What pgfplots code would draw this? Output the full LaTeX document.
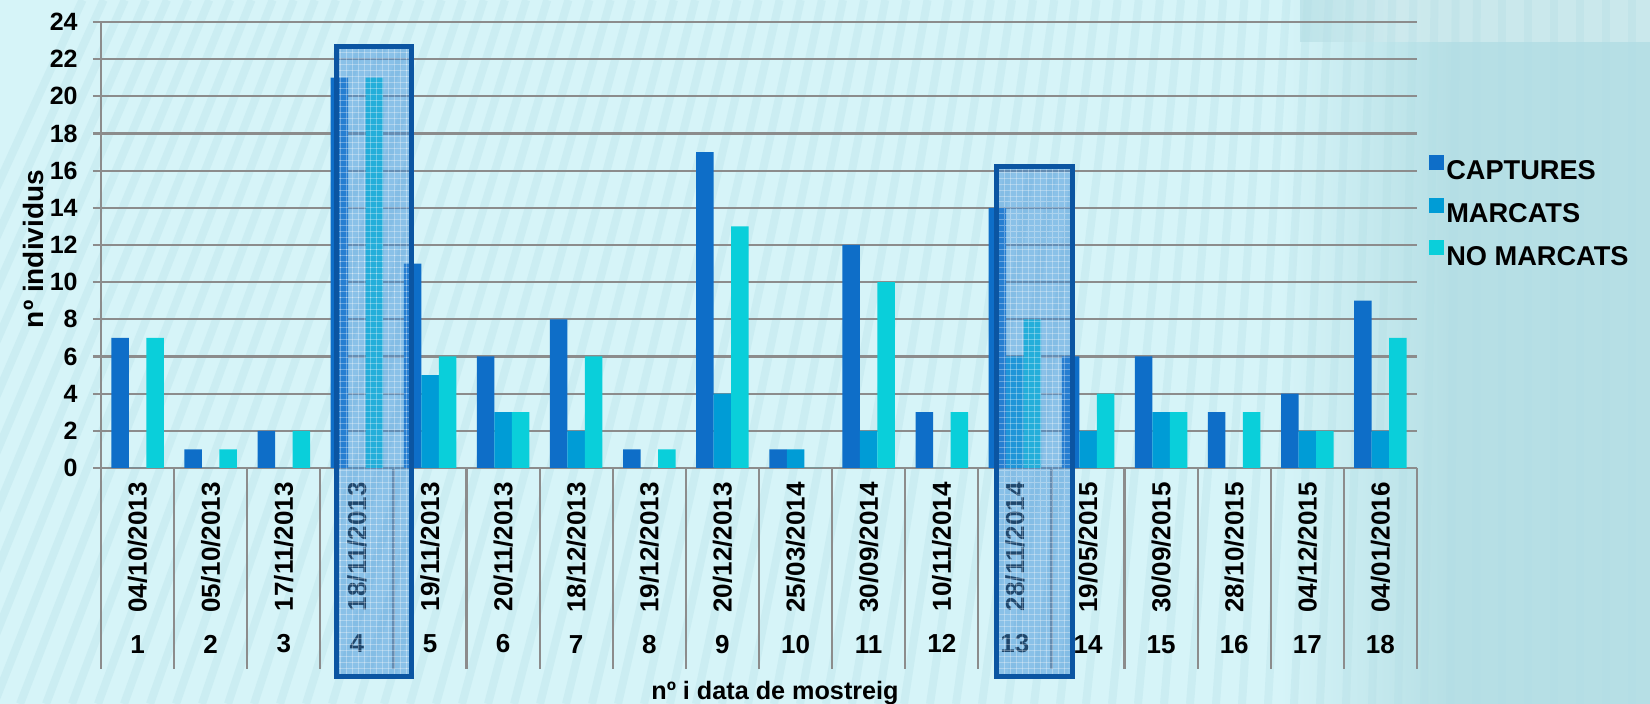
\documentclass[border=0pt]{standalone}
\usepackage{fontspec}
\setmainfont{Liberation Sans}
\usepackage{pgfplots}
\pgfplotsset{compat=1.18}
\usetikzlibrary{patterns}
\definecolor{capt}{HTML}{0E6EC8}
\definecolor{marc}{HTML}{009CD6}
\definecolor{nomarc}{HTML}{0ACFDA}
\definecolor{bg}{HTML}{D6F4F8}
\definecolor{bgr}{HTML}{B6DFE5}
\definecolor{stripe}{HTML}{B2DEE5}
\definecolor{gridc}{HTML}{8C8C8C}
\definecolor{boxb}{HTML}{0B55A2}
\definecolor{boxf}{HTML}{3F8FDA}
\begin{document}
\begin{tikzpicture}
\fill[bg] (0,0) rectangle (825bp,352bp);
\shade[left color=bg, right color=bgr] (640bp,0) rectangle (725bp,352bp);
\fill[bgr] (724.9bp,0) rectangle (825bp,352bp);
\shade[left color=bgr, right color=white!40!bgr, opacity=0.7] (650bp,331bp) rectangle (700bp,352bp);
\fill[white!40!bgr, opacity=0.7] (699.9bp,331bp) rectangle (825bp,352bp);
\begin{scope}
\clip (0,0) rectangle (825bp,352bp);
\foreach \i in {0,...,75} {
  \pgfmathsetmacro{\xa}{\i*13-120}
  \pgfmathsetmacro{\xb}{\xa+max(0,150*(1-(\xa+60)/800))}
  \draw[stripe, line width=4bp, opacity=0.3] (\xa bp,0) -- (\xb bp,352bp);
}
\end{scope}
\begin{axis}[
  at={(50.5bp,118bp)}, anchor=south west,
  scale only axis, width=658bp, height=223bp,
  xmin=0.5, xmax=18.5, ymin=0, ymax=24,
  clip=false,
  axis lines*=left,
  axis line style={-, gridc, line width=1.2bp},
  ytick={0,2,...,24},
  ymajorgrids, grid style={gridc, line width=1.1bp},
  tick align=outside, major tick length=4bp,
  ytick style={gridc, line width=1.1bp},
  xtick={1,...,18}, xtick style={draw=none},
  /pgf/number format/assume math mode=true,
  yticklabel style={font=\bfseries\fontsize{12.5bp}{15bp}\selectfont, inner sep=0pt, xshift=-7.5bp},
  xticklabel style={font=\bfseries\fontsize{13bp}{15.6bp}\selectfont, align=center, anchor=north, inner sep=0pt, yshift=-3bp},
  xticklabels={
    {\rotatebox{90}{04/10/2013}\\[5bp]1},
    {\rotatebox{90}{05/10/2013}\\[5bp]2},
    {\rotatebox{90}{17/11/2013}\\[5bp]3},
    {\rotatebox{90}{18/11/2013}\\[5bp]4},
    {\rotatebox{90}{19/11/2013}\\[5bp]5},
    {\rotatebox{90}{20/11/2013}\\[5bp]6},
    {\rotatebox{90}{18/12/2013}\\[5bp]7},
    {\rotatebox{90}{19/12/2013}\\[5bp]8},
    {\rotatebox{90}{20/12/2013}\\[5bp]9},
    {\rotatebox{90}{25/03/2014}\\[5bp]10},
    {\rotatebox{90}{30/09/2014}\\[5bp]11},
    {\rotatebox{90}{10/11/2014}\\[5bp]12},
    {\rotatebox{90}{28/11/2014}\\[5bp]13},
    {\rotatebox{90}{19/05/2015}\\[5bp]14},
    {\rotatebox{90}{30/09/2015}\\[5bp]15},
    {\rotatebox{90}{28/10/2015}\\[5bp]16},
    {\rotatebox{90}{04/12/2015}\\[5bp]17},
    {\rotatebox{90}{04/01/2016}\\[5bp]18}},
  xlabel={nº i data de mostreig},
  every axis x label/.style={at={(rel axis cs:0.5,0)}, xshift=8bp, yshift=-112.5bp, anchor=center, font=\bfseries\fontsize{12.6bp}{15bp}\selectfont},
  ylabel={nº individus},
  every axis y label/.style={at={(rel axis cs:0,0.5)}, xshift=-34bp, yshift=-2bp, rotate=90, anchor=center, font=\bfseries\fontsize{14bp}{17bp}\selectfont},
  legend style={at={(rel axis cs:1.009,0.703)}, anchor=north west, draw=none, fill=none, inner sep=0pt,
    font=\bfseries\fontsize{13.6bp}{16bp}\selectfont, row sep=7.5bp, column sep=1bp, nodes={inner sep=0pt}},
  legend cell align=left,
]
\addplot[ycomb, gridc, line width=1.1bp, mark=none, forget plot] coordinates {
(0.5,-10.82) (1.5,-10.82) (2.5,-10.82) (3.5,-10.82) (4.5,-10.82) (5.5,-10.82) (6.5,-10.82)
(7.5,-10.82) (8.5,-10.82) (9.5,-10.82) (10.5,-10.82) (11.5,-10.82) (12.5,-10.82) (13.5,-10.82)
(14.5,-10.82) (15.5,-10.82) (16.5,-10.82) (17.5,-10.82) (18.5,-10.82)};
\addplot[ybar, bar width=8.75bp, bar shift=-8.75bp, fill=capt, draw=none,
  legend image code/.code={\fill[capt] (0bp,0.9bp) rectangle (7.5bp,8.4bp);}] coordinates {
(1,7) (2,1) (3,2) (4,21) (5,11) (6,6) (7,8) (8,1) (9,17) (10,1) (11,12) (12,3) (13,14) (14,6) (15,6) (16,3) (17,4) (18,9)};
\addplot[ybar, bar width=8.75bp, bar shift=0bp, fill=marc, draw=none,
  legend image code/.code={\fill[marc] (0bp,0.9bp) rectangle (7.5bp,8.4bp);}] coordinates {
(1,0) (2,0) (3,0) (4,0) (5,5) (6,3) (7,2) (8,0) (9,4) (10,1) (11,2) (12,0) (13,6) (14,2) (15,3) (16,0) (17,2) (18,2)};
\addplot[ybar, bar width=8.75bp, bar shift=8.75bp, fill=nomarc, draw=none,
  legend image code/.code={\fill[nomarc] (0bp,0.9bp) rectangle (7.5bp,8.4bp);}] coordinates {
(1,7) (2,1) (3,2) (4,21) (5,6) (6,3) (7,6) (8,1) (9,13) (10,0) (11,10) (12,3) (13,8) (14,4) (15,3) (16,3) (17,2) (18,7)};
\legend{CAPTURES, MARCATS, NO MARCATS}
\fill[boxf, opacity=0.5] (axis cs:3.72,22.69) rectangle (axis cs:4.748,-11.22);
\fill[pattern=grid, pattern color=white, opacity=0.3] (axis cs:3.72,22.69) rectangle (axis cs:4.748,-11.22);
\draw[boxb, line width=2.5bp] (axis cs:3.72,22.69) rectangle (axis cs:4.748,-11.22);
\fill[boxf, opacity=0.5] (axis cs:12.75,16.23) rectangle (axis cs:13.79,-11.22);
\fill[pattern=grid, pattern color=white, opacity=0.3] (axis cs:12.75,16.23) rectangle (axis cs:13.79,-11.22);
\draw[boxb, line width=2.5bp] (axis cs:12.75,16.23) rectangle (axis cs:13.79,-11.22);
\end{axis}
\pgfresetboundingbox
\useasboundingbox (0,0) rectangle (825bp,352bp);
\end{tikzpicture}
\end{document}
